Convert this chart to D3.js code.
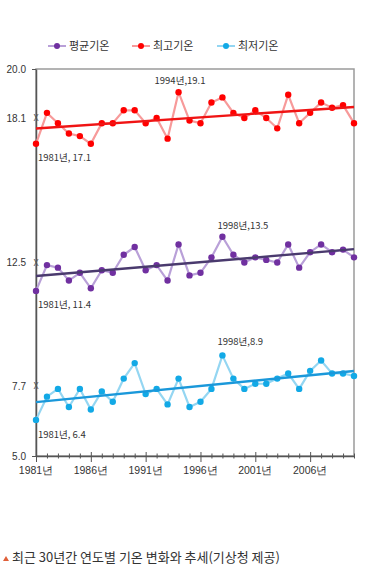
<!DOCTYPE html>
<html>
<head>
<meta charset="utf-8">
<script src="https://cdn.jsdelivr.net/npm/d3@7"></script>
<style>
  body { margin: 0; background: #fff; }
  svg { display: block; font-family: "Noto Sans CJK KR", "Noto Sans", sans-serif; }
</style>
</head>
<body>
<svg width="380" height="567"></svg>
<script>
// 연도
var years = d3.range(1981, 2011);
// 평균기온
var avgTemp = [11.4, 12.4, 12.3, 11.8, 12.1, 11.5, 12.2, 12.1, 12.8, 13.1,
               12.2, 12.4, 11.8, 13.2, 12.0, 12.1, 12.7, 13.5, 12.8, 12.5,
               12.7, 12.6, 12.5, 13.2, 12.3, 12.9, 13.2, 12.9, 13.0, 12.7];
// 최고기온
var maxTemp = [17.1, 18.3, 17.9, 17.5, 17.4, 17.1, 17.9, 17.9, 18.4, 18.4,
               17.9, 18.1, 17.3, 19.1, 18.0, 17.9, 18.7, 18.9, 18.3, 18.1,
               18.4, 18.1, 17.7, 19.0, 17.9, 18.3, 18.7, 18.5, 18.6, 17.9];
// 최저기온
var minTemp = [6.4, 7.3, 7.6, 6.9, 7.6, 6.8, 7.5, 7.1, 8.0, 8.6,
               7.4, 7.6, 7.0, 8.0, 6.9, 7.1, 7.6, 8.9, 8.0, 7.6,
               7.8, 7.8, 8.0, 8.2, 7.6, 8.3, 8.7, 8.2, 8.2, 8.1];

var yTicks = [5.0, 7.7, 12.5, 18.1, 20.0];
var meanTicks = [7.7, 12.5, 18.1];
var xLabelYears = [1981, 1986, 1991, 1996, 2001, 2006];

var series = [
    {name: "평균기온", values: avgTemp, dot: "#7030a0", line: "#b9a0d8", trend: "#4a3a6e"},
    {name: "최고기온", values: maxTemp, dot: "#ff0000", line: "#f79a9a", trend: "#f01414"},
    {name: "최저기온", values: minTemp, dot: "#12a9e6", line: "#94d6f2", trend: "#1a98da"}
];

// 라벨 (연도 인덱스)
var notes = [
    {s: 1, i: 0, text: "1981년, 17.1", dx: 2, dy: 17},
    {s: 1, i: 13, text: "1994년,19.1", dx: -24, dy: -8},
    {s: 0, i: 0, text: "1981년, 11.4", dx: 2, dy: 17},
    {s: 0, i: 17, text: "1998년,13.5", dx: -5, dy: -8},
    {s: 2, i: 0, text: "1981년, 6.4", dx: 2, dy: 18},
    {s: 2, i: 17, text: "1998년,8.9", dx: -5, dy: -10}
];

var svg = d3.select("svg");
var pLeft = 36, pRight = 354, pTop = 69, pBottom = 456;

var x = d3.scaleLinear().domain([1981, 2010]).range([pLeft, pRight]);
var y = d3.scaleLinear().domain([5, 20]).range([pBottom, pTop]);

// 테두리
svg.append("rect")
    .attr("x", pLeft).attr("y", pTop)
    .attr("width", pRight - pLeft).attr("height", pBottom - pTop)
    .attr("fill", "none").attr("stroke", "#9a9a9a").attr("stroke-width", 1.5);

// y축
var yAxis = svg.append("g")
    .attr("transform", "translate(" + pLeft + ",0)")
    .call(d3.axisLeft(y).tickValues(yTicks).tickFormat(d3.format(".1f")).tickSize(0).tickPadding(10));
yAxis.select(".domain").attr("stroke", "#555").attr("stroke-width", 1.5);
yAxis.selectAll("text").attr("font-size", "10px").attr("fill", "#333").attr("font-family", null);
yAxis.selectAll(".tick")
    .filter(function(d) { return d == 5 || d == 20; })
    .append("line").attr("x1", -4).attr("x2", 0).attr("stroke", "#555");

// 평균값 X 표시
svg.selectAll(".meanx")
    .data(meanTicks)
    .enter().append("text")
    .attr("x", pLeft).attr("y", function(d) { return y(d) + 3; })
    .attr("text-anchor", "middle")
    .attr("font-size", "9px").attr("fill", "#555")
    .text("X");

// x축
var xAxis = svg.append("g")
    .attr("transform", "translate(0," + pBottom + ")")
    .call(d3.axisBottom(x).tickValues(years).tickSize(0).tickFormat(""));
xAxis.select(".domain").attr("stroke", "#555").attr("stroke-width", 1.5);
xAxis.selectAll(".tick").append("line")
    .attr("y1", function(d) { return xLabelYears.indexOf(d) >= 0 ? -4 : -2.5; })
    .attr("y2", function(d) { return xLabelYears.indexOf(d) >= 0 ? 6 : 2.5; })
    .attr("stroke", "#555");
xAxis.selectAll(".xl")
    .data(xLabelYears)
    .enter().append("text")
    .attr("x", function(d) { return x(d); })
    .attr("y", 18)
    .attr("text-anchor", "middle")
    .attr("font-size", "10.5px").attr("fill", "#333")
    .text(function(d) { return d + "년"; });

var line = d3.line()
    .x(function(d, i) { return x(years[i]); })
    .y(function(d) { return y(d); });

series.forEach(function(s) {
    svg.append("path")
        .datum(s.values)
        .attr("d", line)
        .attr("fill", "none")
        .attr("stroke", s.line)
        .attr("stroke-width", 2.2);

    svg.selectAll(null)
        .data(s.values)
        .enter().append("circle")
        .attr("cx", function(d, i) { return x(years[i]); })
        .attr("cy", function(d) { return y(d); })
        .attr("r", 3.2)
        .attr("fill", s.dot);

    // 추세선 (최소제곱)
    var mx = d3.mean(years), my = d3.mean(s.values);
    var num = d3.sum(years, function(t, i) { return (t - mx) * (s.values[i] - my); });
    var den = d3.sum(years, function(t) { return (t - mx) * (t - mx); });
    var b = num / den, a = my - b * mx;
    svg.append("line")
        .attr("x1", x(1981)).attr("y1", y(a + b * 1981))
        .attr("x2", x(2010)).attr("y2", y(a + b * 2010))
        .attr("stroke", s.trend)
        .attr("stroke-width", 2.4);
});

// 주석
notes.forEach(function(n) {
    svg.append("text")
        .attr("x", x(years[n.i]) + n.dx)
        .attr("y", y(series[n.s].values[n.i]) + n.dy)
        .attr("font-size", "9.5px").attr("fill", "#333")
        .text(n.text);
});

// 범례
var lx = [48, 132, 217];
series.forEach(function(s, i) {
    var g = svg.append("g").attr("transform", "translate(" + lx[i] + ",46)");
    g.append("line").attr("x1", 0).attr("x2", 18).attr("stroke", s.line).attr("stroke-width", 2);
    g.append("circle").attr("cx", 9).attr("r", 3).attr("fill", s.dot);
    g.append("text").attr("x", 21).attr("y", 4).attr("font-size", "11px").attr("fill", "#333").text(s.name);
});

// 캡션
svg.append("path")
    .attr("d", "M3,561 L6,556 L9,561 Z")
    .attr("fill", "#e0603a");
svg.append("text")
    .attr("x", 12).attr("y", 562)
    .attr("font-size", "13px").attr("fill", "#333")
    .text("최근 30년간 연도별 기온 변화와 추세(기상청 제공)");
</script>
</body>
</html>
